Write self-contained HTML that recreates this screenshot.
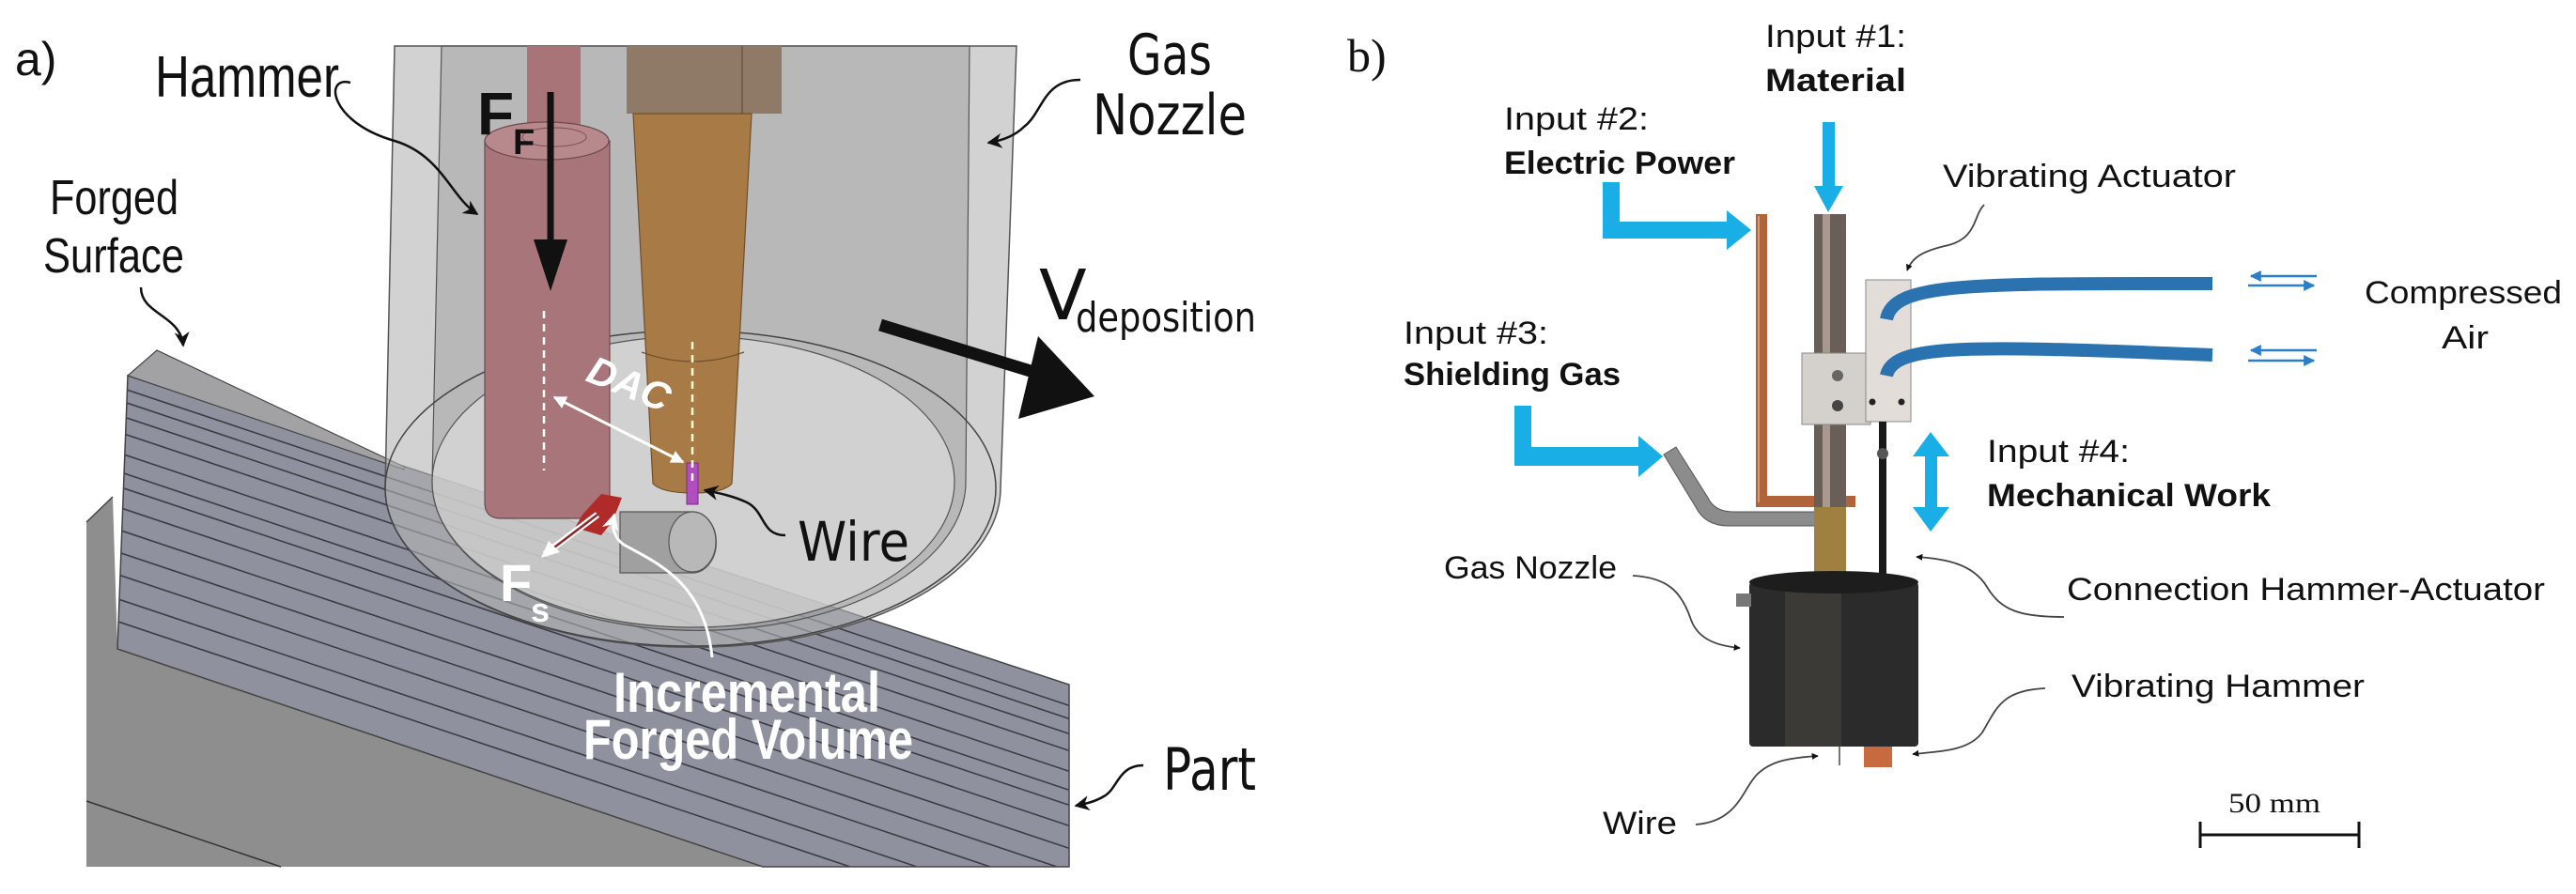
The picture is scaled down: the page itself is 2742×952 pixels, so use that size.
<!DOCTYPE html>
<html><head><meta charset="utf-8"><style>
html,body{margin:0;padding:0;background:#fff;width:2742px;height:952px;overflow:hidden;}
svg{display:block;position:absolute;left:0;top:0;overflow:hidden;}
</style></head><body>
<svg width="2742" height="952" viewBox="0 0 2742 952" xmlns="http://www.w3.org/2000/svg">
<defs>
<marker id="ah" viewBox="0 0 10 10" refX="9" refY="5" markerWidth="7" markerHeight="7" orient="auto" markerUnits="userSpaceOnUse"><path d="M0,0 L10,5 L0,10 z" fill="#111"/></marker>
<marker id="ahb" viewBox="0 0 10 10" refX="9" refY="5" markerWidth="16" markerHeight="16" orient="auto" markerUnits="userSpaceOnUse"><path d="M0,0 L10,5 L0,10 L3,5 z" fill="#111"/></marker>
<marker id="ahw" viewBox="0 0 10 10" refX="9" refY="5" markerWidth="18" markerHeight="18" orient="auto" markerUnits="userSpaceOnUse"><path d="M0,0 L10,5 L0,10 L3,5 z" fill="#fff"/></marker>
<marker id="ahw2" viewBox="0 0 10 10" refX="9" refY="5" markerWidth="14" markerHeight="14" orient="auto-start-reverse" markerUnits="userSpaceOnUse"><path d="M0,0 L10,5 L0,10 z" fill="#fff"/></marker>
<marker id="ahblue" viewBox="0 0 10 10" refX="9" refY="5" markerWidth="12" markerHeight="12" orient="auto" markerUnits="userSpaceOnUse"><path d="M0,0 L10,5 L0,10 z" fill="#2a7fc8"/></marker>
<clipPath id="ridge"><polygon points="136,400 1138,729 1138,923 812,923 125,691"/></clipPath>
</defs>

<polygon points="92,556 120,529 125,691 812,923 92,923" fill="#8e8e8e"/>
<line x1="92" y1="556" x2="120" y2="529" stroke="#444" stroke-width="1.5"/>
<line x1="92" y1="853" x2="299" y2="923" stroke="#333" stroke-width="1.5"/>
<polygon points="136,400 1138,729 1138,923 812,923 125,691" fill="#8f929e"/>
<g clip-path="url(#ridge)" stroke="#3c3d44" stroke-width="1.6" fill="none">
<line x1="120" y1="410" x2="1140" y2="752"/>
<line x1="120" y1="424" x2="1140" y2="766"/>
<line x1="120" y1="440" x2="1140" y2="782"/>
<line x1="120" y1="458" x2="1140" y2="800"/>
<line x1="120" y1="480" x2="1140" y2="822"/>
<line x1="120" y1="500" x2="1140" y2="842"/>
<line x1="120" y1="516" x2="1140" y2="858"/>
<line x1="120" y1="538" x2="1140" y2="880"/>
<line x1="120" y1="562" x2="1140" y2="904"/>
<line x1="120" y1="586" x2="1125" y2="923"/>
<line x1="120" y1="610" x2="1054" y2="923"/>
<line x1="120" y1="636" x2="976" y2="923"/>
<line x1="120" y1="660" x2="905" y2="923"/>
</g>
<polygon points="136,400 1138,729 1138,923 812,923 125,691" fill="none" stroke="#444" stroke-width="1.5"/>
<polygon points="136,400 167,373 430,497 430,500" fill="#a2a2a4" stroke="#444" stroke-width="1.2"/>

<path d="M420,49 L1082,49 L1065,520 A325,168 0 0 1 410,520 Z" fill="#b4b4b4" fill-opacity="0.6" stroke="#555" stroke-width="1.5"/>
<path d="M470,49 L1032,49 L1028,513 A278,155 0 0 1 460,513 Z" fill="#9a9a9a" fill-opacity="0.45" stroke="#555" stroke-width="1.2"/>
<ellipse cx="738" cy="513" rx="278" ry="155" fill="#e6e6e6" fill-opacity="0.55" stroke="#555" stroke-width="1.2"/>
<ellipse cx="735" cy="520" rx="325" ry="168" fill="none" stroke="#444" stroke-width="1.5"/>

<path d="M660,545 L737,545 A25,32 0 0 1 737,610 L660,610 Z" fill="#a0a0a0" stroke="#555" stroke-width="1.2"/>
<ellipse cx="737" cy="577" rx="25" ry="32" fill="#b8b8b8" stroke="#555" stroke-width="1.2"/>

<rect x="561" y="49" width="57" height="95" fill="#a97478"/>
<path d="M516,150 L649,150 L649,535 Q649,552 632,552 L533,552 Q516,552 516,535 Z" fill="#a8767a" stroke="#6e4a4d" stroke-width="1.2"/>
<ellipse cx="582" cy="150" rx="66" ry="20" fill="#b7888c" stroke="#6e4a4d" stroke-width="1.2"/>
<ellipse cx="590" cy="146" rx="34" ry="10" fill="none" stroke="#7a5053" stroke-width="1"/>

<polygon points="667,49 832,49 832,121 667,121" fill="#8f7a68"/>
<line x1="790" y1="49" x2="790" y2="121" stroke="#6a5545" stroke-width="1.5"/>
<path d="M674,121 L800,121 L779,515 Q770,525 737,525 Q705,525 695,515 Z" fill="#a87a45" stroke="#6f4f2a" stroke-width="1.2"/>
<path d="M683,375 Q737,395 792,375" fill="none" stroke="#6f4f2a" stroke-width="1.2"/>
<rect x="731" y="493" width="12" height="44" fill="#b04ec0" stroke="#7a2a8a" stroke-width="1"/>

<polygon points="620,548 640,526 662,530 652,555 640,570 612,562" fill="#b02a2a"/>

<line x1="579" y1="331" x2="579" y2="501" stroke="#fff" stroke-width="2.5" stroke-dasharray="8,6"/>
<line x1="737" y1="364" x2="737" y2="516" stroke="#fffbd0" stroke-width="2.5" stroke-dasharray="8,6"/>
<line x1="590" y1="423" x2="727" y2="492" stroke="#fff" stroke-width="3" marker-end="url(#ahw2)" marker-start="url(#ahw2)"/>
<text x="0" y="0" transform="translate(622,405) rotate(22)" font-family="'Liberation Sans',sans-serif" font-size="42" font-style="italic" font-weight="bold" fill="#fff">DAC</text>

<line x1="586" y1="98" x2="586" y2="260" stroke="#111" stroke-width="7"/>
<polygon points="568,255 604,255 586,310" fill="#111"/>
<text x="508" y="143" font-family="'Liberation Sans',sans-serif" font-size="64" font-weight="bold" fill="#111">F</text>
<text x="546" y="164" font-family="'Liberation Sans',sans-serif" font-size="38" font-weight="bold" fill="#111">F</text>

<line x1="636" y1="548" x2="580" y2="590" stroke="#fff" stroke-width="7"/>
<line x1="636" y1="548" x2="582" y2="589" stroke="#8a2a2a" stroke-width="2.5"/>
<polygon points="576,594 584,576 596,588" fill="#fff"/>
<text x="532" y="640" font-family="'Liberation Sans',sans-serif" font-size="56" font-weight="bold" fill="#fff">F</text>
<text x="565" y="662" font-family="'Liberation Sans',sans-serif" font-size="36" font-weight="bold" fill="#fff">s</text>

<path d="M758,700 C750,620 700,600 664,580 C650,570 652,555 654,548" fill="none" stroke="#fff" stroke-width="3" marker-end="url(#ahw)"/>

<line x1="937" y1="346" x2="1100" y2="396" stroke="#111" stroke-width="13"/>
<polygon points="1105,358 1165,422 1084,446" fill="#111"/>

<path d="M373,88 C345,80 350,130 420,150 C470,165 480,210 508,228" fill="none" stroke="#111" stroke-width="2.5" marker-end="url(#ahb)"/>
<path d="M150,306 C150,335 192,335 195,368" fill="none" stroke="#111" stroke-width="2.5" marker-end="url(#ahb)"/>
<path d="M1150,85 C1110,85 1110,120 1090,135 C1080,145 1065,150 1052,152" fill="none" stroke="#111" stroke-width="2.5" marker-end="url(#ahb)"/>
<path d="M836,570 C810,570 815,545 795,535 C780,528 765,525 750,522" fill="none" stroke="#111" stroke-width="2.5" marker-end="url(#ahb)"/>
<path d="M1217,815 C1190,815 1190,840 1175,848 C1165,854 1155,856 1145,858" fill="none" stroke="#111" stroke-width="2.5" marker-end="url(#ahb)"/>

<text x="16" y="80" font-family="'Liberation Sans',sans-serif" font-size="50" fill="#111">a)</text>
<text x="165" y="103" font-family="'Liberation Sans',sans-serif" font-size="62" fill="#111" textLength="196" lengthAdjust="spacingAndGlyphs">Hammer</text>
<text x="53" y="228" font-family="'Liberation Sans',sans-serif" font-size="52" fill="#111" textLength="137" lengthAdjust="spacingAndGlyphs">Forged</text>
<text x="46" y="290" font-family="'Liberation Sans',sans-serif" font-size="52" fill="#111" textLength="150" lengthAdjust="spacingAndGlyphs">Surface</text>
<text x="849" y="597" font-family="'DejaVu Sans',sans-serif" font-size="58" fill="#111" textLength="119" lengthAdjust="spacingAndGlyphs">Wire</text>
<text x="653" y="758" font-family="'Liberation Sans',sans-serif" font-size="60" font-weight="bold" fill="#fff" textLength="284" lengthAdjust="spacingAndGlyphs">Incremental</text>
<text x="621" y="808" font-family="'Liberation Sans',sans-serif" font-size="60" font-weight="bold" fill="#fff" textLength="351" lengthAdjust="spacingAndGlyphs">Forged Volume</text>
<text x="1200" y="79" font-family="'DejaVu Sans',sans-serif" font-size="60" fill="#111" textLength="90" lengthAdjust="spacingAndGlyphs">Gas</text>
<text x="1163" y="143" font-family="'DejaVu Sans',sans-serif" font-size="60" fill="#111" textLength="164" lengthAdjust="spacingAndGlyphs">Nozzle</text>
<text x="1106" y="340" font-family="'DejaVu Sans',sans-serif" font-size="74" fill="#111">V</text>
<text x="1145" y="353" font-family="'DejaVu Sans',sans-serif" font-size="44" fill="#111" textLength="192" lengthAdjust="spacingAndGlyphs">deposition</text>
<text x="1238" y="841" font-family="'DejaVu Sans',sans-serif" font-size="62" fill="#111" textLength="99" lengthAdjust="spacingAndGlyphs">Part</text>

<text x="1434" y="76" font-family="'Liberation Serif',serif" font-size="50" fill="#111">b)</text>

<g fill="#1aaee6">
<rect x="1940" y="130" width="13" height="70"/>
<polygon points="1931,198 1962,198 1946,226"/>
<path d="M1706,194 L1724,194 L1724,236 L1838,236 L1838,224 L1864,245 L1838,266 L1838,254 L1706,254 Z"/>
<path d="M1612,432 L1630,432 L1630,476 L1744,476 L1744,464 L1770,486 L1744,508 L1744,496 L1612,496 Z"/>
<rect x="2049" y="482" width="13" height="62"/>
<polygon points="2036,486 2075,486 2055,460"/>
<polygon points="2036,540 2075,540 2055,566"/>
</g>

<path d="M1869,228 L1881,228 L1881,528 L1975,528 L1975,540 L1869,540 Z" fill="#b0643a"/>
<line x1="1872" y1="230" x2="1872" y2="535" stroke="#d89870" stroke-width="2"/>
<path d="M1771,484 L1784,476 L1818,530 Q1825,545 1845,545 L1935,545 L1935,560 L1840,560 Q1815,560 1805,540 Z" fill="#8c8c8c" stroke="#555" stroke-width="1"/>
<rect x="1931" y="228" width="34" height="385" fill="#6a5e58"/>
<rect x="1940" y="228" width="8" height="385" fill="#a89890"/>
<rect x="1931" y="540" width="34" height="73" fill="#a08040"/>
<rect x="1918" y="376" width="73" height="76" fill="#d4d0cc" stroke="#888" stroke-width="1"/>
<circle cx="1956" cy="400" r="6" fill="#666"/><circle cx="1956" cy="432" r="6" fill="#444"/>
<rect x="1986" y="298" width="48" height="151" fill="#e2ddd8" stroke="#888" stroke-width="1"/>
<circle cx="1993" cy="428" r="3.5" fill="#222"/><circle cx="2024" cy="428" r="3.5" fill="#222"/>
<path d="M2008,340 C2015,300 2100,302 2355,302" fill="none" stroke="#2a72b0" stroke-width="14"/>
<path d="M2008,400 C2015,365 2100,368 2355,378" fill="none" stroke="#2a72b0" stroke-width="14"/>
<rect x="2000" y="449" width="8" height="164" fill="#1a1a1a"/>
<circle cx="2004" cy="483" r="6" fill="#555"/>
<rect x="1862" y="620" width="180" height="175" fill="#2b2b2b" rx="4"/>
<rect x="1900" y="620" width="60" height="175" fill="#3c3a36"/>
<ellipse cx="1952" cy="620" rx="90" ry="12" fill="#1d1d1d"/>
<rect x="1848" y="632" width="16" height="14" fill="#777"/>
<rect x="1984" y="795" width="30" height="22" fill="#c86a40"/>
<line x1="1958" y1="795" x2="1958" y2="815" stroke="#777" stroke-width="2"/>

<g stroke="#2a7fc8" stroke-width="2.5">
<line x1="2466" y1="294" x2="2396" y2="294" marker-end="url(#ahblue)"/>
<line x1="2393" y1="304" x2="2463" y2="304" marker-end="url(#ahblue)"/>
<line x1="2466" y1="373" x2="2396" y2="373" marker-end="url(#ahblue)"/>
<line x1="2393" y1="384" x2="2463" y2="384" marker-end="url(#ahblue)"/>
</g>

<g fill="none" stroke="#444" stroke-width="1.8">
<path d="M2112,218 C2100,230 2105,255 2070,262 C2045,268 2035,275 2030,288" marker-end="url(#ah)"/>
<path d="M1738,613 C1775,615 1790,630 1800,660 C1808,682 1830,688 1852,690" marker-end="url(#ah)"/>
<path d="M2197,657 C2150,657 2130,650 2115,625 C2100,600 2070,595 2040,593" marker-end="url(#ah)"/>
<path d="M2177,733 C2130,735 2125,755 2110,780 C2095,800 2065,800 2036,803" marker-end="url(#ah)"/>
<path d="M1805,878 C1850,875 1855,840 1870,825 C1885,810 1905,807 1935,805" marker-end="url(#ah)"/>
</g>

<g stroke="#111" stroke-width="3"><line x1="2342" y1="889" x2="2511" y2="889"/><line x1="2342" y1="875" x2="2342" y2="903"/><line x1="2511" y1="875" x2="2511" y2="903"/></g>
<text x="2372" y="865" font-family="'Liberation Serif',serif" font-size="30" fill="#111" textLength="98" lengthAdjust="spacingAndGlyphs">50 mm</text>

<g font-family="'Liberation Sans',sans-serif" font-size="34" fill="#111">
<text x="1879" y="50" textLength="150" lengthAdjust="spacingAndGlyphs">Input #1:</text>
<text x="1879" y="97" font-weight="bold" textLength="150" lengthAdjust="spacingAndGlyphs">Material</text>
<text x="1601" y="138" textLength="154" lengthAdjust="spacingAndGlyphs">Input #2:</text>
<text x="1601" y="185" font-weight="bold" textLength="246" lengthAdjust="spacingAndGlyphs">Electric Power</text>
<text x="2068" y="199" textLength="312" lengthAdjust="spacingAndGlyphs">Vibrating Actuator</text>
<text x="2517" y="323" textLength="210" lengthAdjust="spacingAndGlyphs">Compressed</text>
<text x="2599" y="371" textLength="50" lengthAdjust="spacingAndGlyphs">Air</text>
<text x="1494" y="366" textLength="154" lengthAdjust="spacingAndGlyphs">Input #3:</text>
<text x="1494" y="410" font-weight="bold" textLength="231" lengthAdjust="spacingAndGlyphs">Shielding Gas</text>
<text x="2115" y="492" textLength="152" lengthAdjust="spacingAndGlyphs">Input #4:</text>
<text x="2115" y="539" font-weight="bold" textLength="302" lengthAdjust="spacingAndGlyphs">Mechanical Work</text>
<text x="1537" y="616" textLength="184" lengthAdjust="spacingAndGlyphs">Gas Nozzle</text>
<text x="2200" y="639" textLength="509" lengthAdjust="spacingAndGlyphs">Connection Hammer-Actuator</text>
<text x="2205" y="742" textLength="312" lengthAdjust="spacingAndGlyphs">Vibrating Hammer</text>
<text x="1706" y="888" textLength="79" lengthAdjust="spacingAndGlyphs">Wire</text>
</g>
</svg>
</body></html>
